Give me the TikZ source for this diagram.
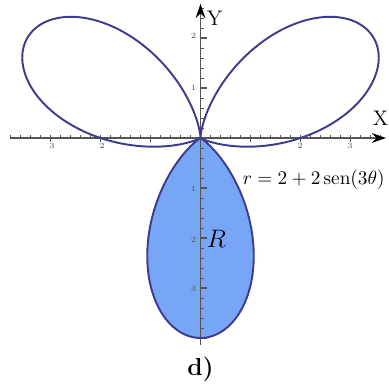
\documentclass[tikz,border=0pt]{standalone}
\usetikzlibrary{arrows.meta}
\definecolor{curvecol}{RGB}{62,60,140}
\definecolor{fillcol}{RGB}{118,166,245}
\definecolor{axiscol}{RGB}{85,85,85}
\tikzset{
  axisline/.style={axiscol, line width=0.8pt, -{Stealth[length=8pt,width=5.5pt,black]}},
  minortick/.style={axiscol, line width=0.4pt},
  majortick/.style={axiscol, line width=0.6pt},
  ticklabel/.style={font=\fontsize{4.5}{5}\selectfont, text=axiscol, inner sep=0pt},
  axislabel/.style={font=\fontsize{12}{14}\selectfont, inner sep=0pt},
  polarcurve/.style={curvecol, line width=1.1pt},
}
\begin{document}
\begin{tikzpicture}[x=1cm,y=1cm]
\useasboundingbox (-4.01,-5.04) rectangle (3.75,2.76);
% filled lower lobe
\fill[fillcol] plot[domain=210:330, samples=200, smooth] (\x:{2+2*sin(3*\x)}) -- cycle;
% minor ticks
\foreach \i in {-19,...,18} {
  \draw[minortick] (\i*0.2,0) -- (\i*0.2,0.05);
}
\foreach \i in {-20,...,13} {
  \draw[minortick] (0,\i*0.2) -- (0.06,\i*0.2);
}
\foreach \v in {-3,-2,-1,1,2,3} {
  \draw[majortick] (\v,0.04) -- (\v,-0.09);
}
\foreach \v in {-4,-3,-2,-1,1,2} {
  \draw[majortick] (0,\v) -- (0.12,\v);
}
% axes
\coordinate (xs) at (-3.81,0);
\coordinate (xe) at (3.71,0);
\coordinate (ys) at (0,-4.14);
\coordinate (ye) at (0,2.68);
\draw[axisline] (xs) -- (xe);
\draw[axisline] (ys) -- (ye);
% tick labels
\node[ticklabel] (lxm3) at (-2.97,-0.15) {3};
\node[ticklabel] (lxm2) at (-1.97,-0.15) {2};
\node[ticklabel] (lx2) at (1.99,-0.15) {2};
\node[ticklabel] (lx3) at (2.99,-0.15) {3};
\node[ticklabel] (ly2) at (-0.14,2.04) {2};
\node[ticklabel] (ly1) at (-0.14,1.0) {1};
\node[ticklabel] (lym1) at (-0.14,-1.02) {1};
\node[ticklabel] (lym2) at (-0.14,-2.04) {2};
\node[ticklabel] (lym3) at (-0.14,-3.02) {3};
% curve
\draw[polarcurve] plot[domain=0:360, samples=361, smooth] (\x:{2+2*sin(3*\x)}) -- cycle;
% labels
\node[axislabel] (X) at (3.6,0.4) {X};
\node[axislabel] (Y) at (0.28,2.4) {Y};
\node[anchor=west, inner sep=0pt, font=\fontsize{10.6}{13}\selectfont] (eq) at (0.84,-0.84) {$r = 2 + 2\,\mathrm{sen}(3\theta)$};
\node[inner sep=0pt, font=\fontsize{14}{16}\selectfont] (R) at (0.32,-2.02) {$R$};
\node[inner sep=0pt, font=\fontsize{14}{16}\selectfont\bfseries] (d) at (0,-4.62) {d)};
\end{tikzpicture}
\end{document}
